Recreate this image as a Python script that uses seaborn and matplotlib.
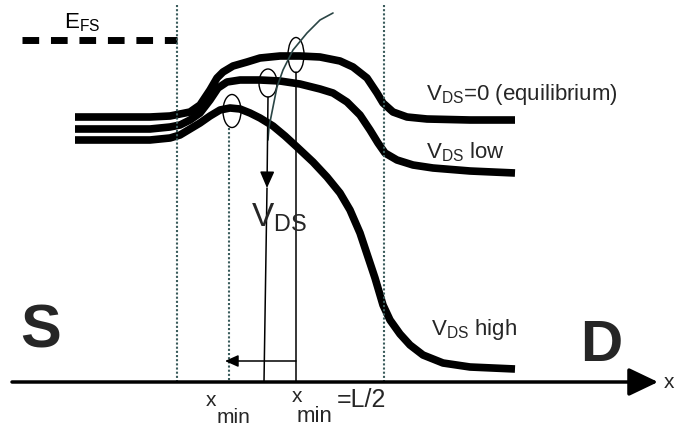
import matplotlib
matplotlib.use('Agg')
import matplotlib.pyplot as plt
from matplotlib.patches import Ellipse
import seaborn as sns
import pandas as pd

sns.set_theme(style='white')
plt.rcParams['font.family'] = ['Liberation Sans', 'DejaVu Sans']
plt.rcParams['mathtext.fontset'] = 'custom'
plt.rcParams['mathtext.rm'] = 'Liberation Sans'

# band profiles (x position, energy drawn downwards)
x_eq = [75, 150, 170, 190, 200, 210, 217, 223, 233, 247, 260, 280, 300, 320, 340, 353, 367, 377, 383,
        393, 407, 427, 470, 515]
y_eq = [117, 117, 116, 112, 105, 90, 78, 72, 66, 62, 58, 56, 56, 57, 61, 67, 78, 93, 103,
        112, 117, 119, 120, 120]

x_low = [75, 150, 170, 180, 190, 200, 210, 218, 227, 240, 260, 280, 300, 320, 333, 347, 360, 370, 378,
         385, 397, 413, 433, 470, 515]
y_low = [129, 129, 127, 125, 120, 113, 100, 88, 82, 80, 80, 81, 84, 89, 93, 102, 115, 130, 143,
         153, 160, 165, 168, 171, 173]

x_high = [75, 150, 170, 180, 190, 200, 210, 220, 230, 240, 250, 260, 273, 285, 297, 313, 327, 340, 350,
          360, 368, 375, 383, 390, 400, 410, 423, 443, 470, 515]
y_high = [140, 140, 138, 135, 129, 123, 116, 110, 108, 109, 113, 118, 126, 136, 147, 162, 177, 193, 210,
          233, 257, 278, 305, 320, 334, 345, 355, 363, 367, 369]

# thin curved guide line going into the V_DS arrow
x_guide = [333, 320, 307, 293, 283, 277, 273, 269, 268]
y_guide = [13, 20, 33, 50, 70, 87, 107, 127, 140]

efs_x = [22, 177]
efs_level = 40
axis_level = 382
x_gate_left = 177
x_gate_right = 384
x_min = 229
x_half = 296
x_arrow = 267

# the three maxima circled in the sketch: centre x, centre y, width, height
peaks = [(232, 111, 18, 33), (268, 83, 18, 28), (296, 55, 16, 35)]

curves = pd.concat([
    pd.DataFrame({'x': x_eq, 'E': y_eq, 'bias': 'eq'}),
    pd.DataFrame({'x': x_low, 'E': y_low, 'bias': 'low'}),
    pd.DataFrame({'x': x_high, 'E': y_high, 'bias': 'high'}),
])

fig = plt.figure(figsize=(6.75, 4.29), dpi=100)
ax = fig.add_axes([0, 0, 1, 1])
ax.set_xlim(0, 675)
ax.set_ylim(429, 0)
ax.axis('off')

thin = '#2a4545'
dots = '#3a5c5c'

sns.lineplot(data=curves, x='x', y='E', units='bias', estimator=None, sort=False,
             color='black', lw=5.5, ax=ax, solid_joinstyle='round', solid_capstyle='butt')
sns.lineplot(x=x_guide, y=y_guide, estimator=None, sort=False, color=thin, lw=1.2, ax=ax)

# Fermi level in the source
ax.plot(efs_x, [efs_level, efs_level], color='black', lw=5, linestyle=(0, (2.4, 1.7)),
        dash_capstyle='butt')
ax.text(64, 28, r'E$_{\mathregular{FS}}$', fontsize=16, color='black')

# gate edges and x_min
for xv, top in [(x_gate_left, 5), (x_gate_right, 5), (x_min, 128)]:
    ax.plot([xv, xv], [top, axis_level], color=dots, lw=1.5, linestyle=(0, (1, 1)))

for cx, cy, w, h in peaks:
    ax.add_patch(Ellipse((cx, cy), w, h, fill=False, lw=1.0, color='black'))

# V_DS arrow and the vertical leaders
ax.annotate('', xy=(x_arrow, 188), xytext=(268, 97),
            arrowprops=dict(arrowstyle='-|>,head_length=0.5,head_width=0.22', lw=1.1,
                            color='black', mutation_scale=20, shrinkA=0, shrinkB=0))
ax.plot([x_arrow, 264], [188, axis_level], color='black', lw=1.1)
ax.plot([x_half, x_half], [72, axis_level], color='black', lw=1.1)
ax.annotate('', xy=(x_min - 4, 361), xytext=(x_half, 361),
            arrowprops=dict(arrowstyle='-|>,head_length=0.4,head_width=0.18', lw=1.1,
                            color='black', mutation_scale=20, shrinkA=0, shrinkB=0))

# position axis
ax.annotate('', xy=(658, axis_level), xytext=(12, axis_level),
            arrowprops=dict(arrowstyle='-|>,head_length=0.9,head_width=0.43', lw=2.5,
                            color='black', mutation_scale=20, shrinkA=0, shrinkB=0))
ax.text(664, axis_level, 'x', fontsize=15, va='center', ha='left')

ax.text(20, 347, 'S', fontsize=44, fontweight='bold', ha='left', va='baseline')
ax.text(580, 361, 'D', fontsize=42, fontweight='bold', ha='left', va='baseline')

ax.text(426, 100, r'$\mathregular{V_{DS}}$=0 (equilibrium)', fontsize=16, va='baseline')
ax.text(426, 158, r'$\mathregular{V_{DS}}$ low', fontsize=16, va='baseline')
ax.text(431, 335, r'$\mathregular{V_{DS}}$ high', fontsize=16, va='baseline')
ax.text(251, 227, r'$\mathregular{V_{DS}}$', fontsize=24, va='baseline')

ax.text(206, 406, 'x', fontsize=15, va='baseline')
ax.text(217, 423, 'min', fontsize=15, va='baseline')
ax.text(292, 402, 'x', fontsize=15, va='baseline')
ax.text(297, 422, 'min', fontsize=16, va='baseline')
ax.text(337, 407, '=L/2', fontsize=18, va='baseline')

fig.savefig('out.png', dpi=100)
plt.close(fig)
